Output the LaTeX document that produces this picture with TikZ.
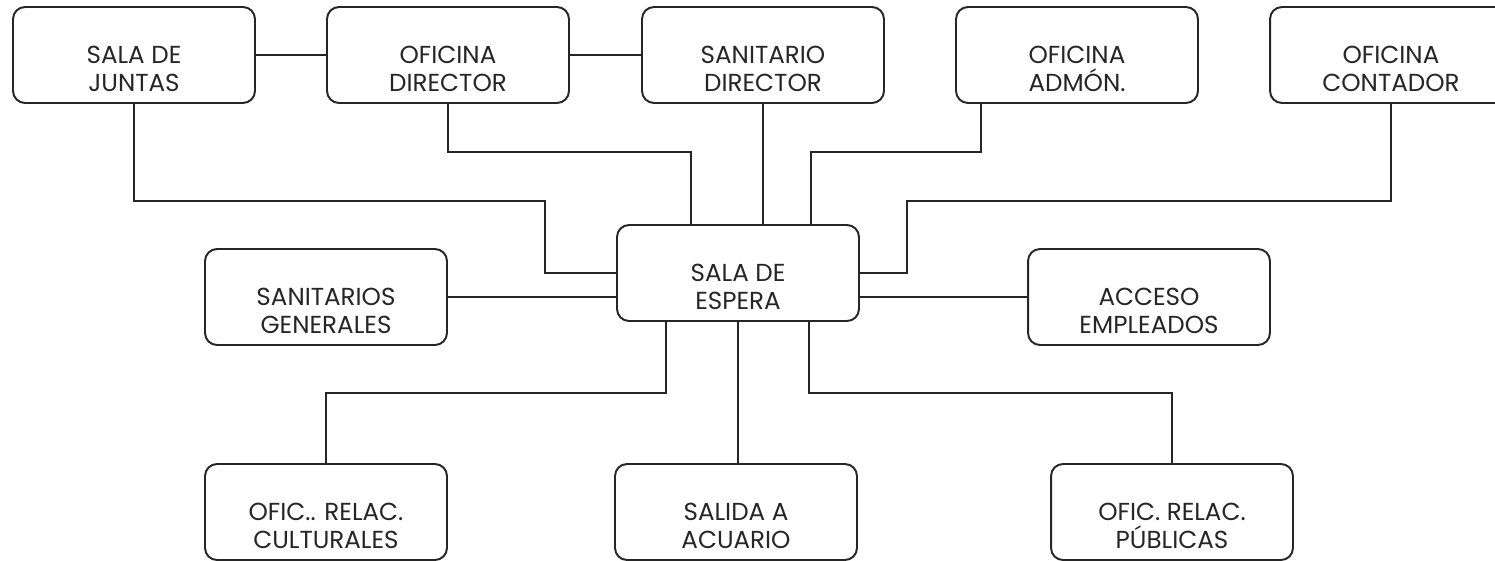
\documentclass[tikz,border=0pt]{standalone}
\usepackage{fontspec}
\setmainfont{Poppins}
\usepackage{tikz}
\usetikzlibrary{positioning}

\newcommand{\roomfont}{\fontsize{14}{16}\selectfont}

\tikzset{
  room/.style={draw=black!85, line width=1.1pt, rounded corners=0.24cm,
    minimum width=4.84cm, minimum height=1.92cm},
  roomtext/.style={align=center, font=\roomfont, text=black!85, yshift=-0.28cm},
  link/.style={draw=black!85, line width=1.1pt},
}

\begin{document}
\begin{tikzpicture}[x=0.02cm, y=-0.02cm]
        \useasboundingbox[fill=white] (0,0) rectangle (1495,561);

        % fila de arriba
        \node [room, label={[roomtext]center:SALA DE\\JUNTAS}] (juntas) at (134,55) {};
        \node [room, label={[roomtext]center:OFICINA\\DIRECTOR}] (director) at (448,55) {};
        \node [room, label={[roomtext]center:SANITARIO\\DIRECTOR}] (sanitario) at (763,55) {};
        \node [room, label={[roomtext]center:OFICINA\\ADMÓN.}] (admon) at (1077,55) {};
        \node [room, label={[roomtext]center:OFICINA\\CONTADOR}] (contador) at (1391,55) {};

        % centro
        \node [room, label={[roomtext]center:SANITARIOS\\GENERALES}] (generales) at (326,297) {};
        \node [room, label={[roomtext]center:SALA DE\\ESPERA}] (espera) at (738,273) {};
        \node [room, label={[roomtext]center:ACCESO\\EMPLEADOS}] (acceso) at (1149,297) {};

        % fila de abajo
        \node [room, label={[roomtext]center:OFIC.. RELAC.\\CULTURALES}] (culturales) at (326,512) {};
        \node [room, label={[roomtext]center:SALIDA A\\ACUARIO}] (salida) at (736,512) {};
        \node [room, label={[roomtext]center:OFIC. RELAC.\\PÚBLICAS}] (publicas) at (1172,512) {};

        \draw [link] (juntas) -- (director);
        \draw [link] (director) -- (sanitario);

        \draw [link] (juntas.south) |- (545,201) |- (espera.west);
        \draw [link] (director.south) |- (691,152) -- (espera.north -| 691,0);
        \draw [link] (sanitario.south) -- (sanitario.south |- espera.north);
        \draw [link] (admon.south -| 981,0) |- (811,152) -- (espera.north -| 811,0);
        \draw [link] (contador.south) |- (907,201) |- (espera.east);

        \draw [link] (generales.east) -- (espera.west |- generales);
        \draw [link] (espera.east |- acceso) -- (acceso.west);

        \draw [link] (espera.south -| 666,0) -- (666,393) -| (culturales.north);
        \draw [link] (espera.south) -- (espera.south |- salida.north);
        \draw [link] (espera.south -| 809,0) -- (809,393) -| (publicas.north);
    \end{tikzpicture}
\end{document}
